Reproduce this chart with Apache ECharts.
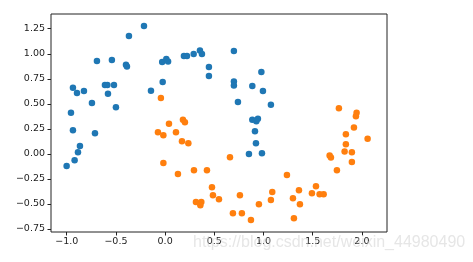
<!DOCTYPE html>
<html>
<head>
<meta charset="utf-8">
<script src="https://cdn.jsdelivr.net/npm/echarts@6/dist/echarts.min.js"></script>
<style>
html,body{margin:0;padding:0;background:#fff;}
#chart{width:473px;height:262px;}
</style>
</head>
<body>
<div id="chart"></div>
<script>
// class 0 (blue) points [x, y]
const class0 = [
  [-0.215,1.277],[-0.368,1.177],[-0.693,0.927],[-0.541,0.937],[-0.398,0.89],[-0.388,0.873],
  [-0.03,0.917],[0.012,0.947],[0.03,0.923],[-0.937,0.66],[-0.896,0.607],[-0.825,0.627],
  [-0.612,0.687],[-0.587,0.687],[-0.52,0.687],[-0.581,0.6],[-0.744,0.507],[-0.5,0.467],
  [-0.957,0.41],[-0.144,0.63],[-0.025,0.717],[0.191,0.977],[0.222,0.977],[0.29,0.997],
  [0.354,1.033],[0.374,0.997],[0.445,0.867],[0.445,0.777],[0.699,1.027],[0.699,0.723],
  [0.699,0.683],[0.978,0.817],[0.886,0.677],[0.994,0.627],[0.74,0.517],[1.075,0.49],
  [0.886,0.34],[0.943,0.35],[0.927,0.327],[0.913,0.227],[0.923,0.107],[0.852,0.0],
  [0.984,0.007],[-0.937,0.237],[-0.713,0.207],[-0.866,0.08],[-0.886,0.017],[-0.92,-0.063],
  [-1.001,-0.12]
];
// class 1 (orange) points [x, y]
const class1 = [
  [-0.043,0.557],[0.039,0.30],[0.181,0.34],[0.201,0.317],[1.766,0.457],[1.946,0.41],
  [1.939,0.377],[-0.073,0.217],[-0.018,0.187],[-0.018,-0.09],[0.11,0.217],[0.171,0.127],
  [0.236,0.107],[0.13,-0.2],[0.293,-0.163],[0.425,-0.163],[0.659,-0.033],[0.476,-0.333],
  [0.486,-0.413],[0.547,-0.453],[0.313,-0.48],[0.368,-0.48],[0.358,-0.513],[0.76,-0.413],
  [0.689,-0.593],[0.78,-0.593],[0.872,-0.66],[0.953,-0.503],[1.075,-0.46],[1.089,-0.38],
  [1.919,0.263],[1.837,0.197],[2.058,0.15],[1.837,0.097],[1.824,0.023],[1.898,0.017],
  [1.898,-0.08],[1.672,-0.017],[1.685,-0.037],[1.746,-0.163],[1.238,-0.21],[1.36,-0.363],
  [1.299,-0.443],[1.37,-0.503],[1.309,-0.643],[1.533,-0.323],[1.492,-0.393],[1.57,-0.403],
  [1.611,-0.403]
];
const xTicks = [-1.0,-0.5,0.0,0.5,1.0,1.5,2.0];
const yTicks = [-0.75,-0.5,-0.25,0.0,0.25,0.5,0.75,1.0,1.25];
const xRange = [-1.16, 2.255];
const yRange = [-0.78, 1.397];
const watermark = 'https://blog.csdn.net/weixin_44980490';

function fmt(v, d) {
  const s = Math.abs(v).toFixed(d);
  return (v < -1e-9 ? '\u2212' : '') + s;
}

const chart = echarts.init(document.getElementById('chart'), null, {renderer: 'canvas'});
const labelStyle = {color: '#222', fontFamily: 'DejaVu Sans', fontSize: 9.5};
chart.setOption({
  animation: false,
  backgroundColor: '#fff',
  grid: {left: 51, right: 86, top: 14, bottom: 30, show: true, borderColor: '#222', borderWidth: 1, backgroundColor: 'transparent'},
  xAxis: {
    type: 'value', min: xRange[0], max: xRange[1], position: 'bottom',
    splitLine: {show: false},
    axisLine: {show: false, onZero: false},
    axisTick: {show: true, inside: false, length: 3.5, lineStyle: {color: '#222'}, customValues: xTicks},
    axisLabel: Object.assign({margin: 5, customValues: xTicks, formatter: v => fmt(v, 1)}, labelStyle)
  },
  yAxis: {
    type: 'value', min: yRange[0], max: yRange[1], position: 'left',
    splitLine: {show: false},
    axisLine: {show: false, onZero: false},
    axisTick: {show: true, inside: false, length: 3.5, lineStyle: {color: '#222'}, customValues: yTicks},
    axisLabel: Object.assign({margin: 6, customValues: yTicks, formatter: v => fmt(v, 2)}, labelStyle)
  },
  series: [
    {type: 'scatter', data: class0, symbolSize: 6.5, itemStyle: {color: '#1f77b4', opacity: 1}},
    {type: 'scatter', data: class1, symbolSize: 6.5, itemStyle: {color: '#ff7f0e', opacity: 1}}
  ],
  graphic: [{
    type: 'text', left: 193, top: 235, silent: true, z: 100,
    style: {text: watermark, fill: 'rgba(205,205,205,0.5)', font: '16px "Liberation Sans", sans-serif'}
  }]
});
</script>
</body>
</html>
